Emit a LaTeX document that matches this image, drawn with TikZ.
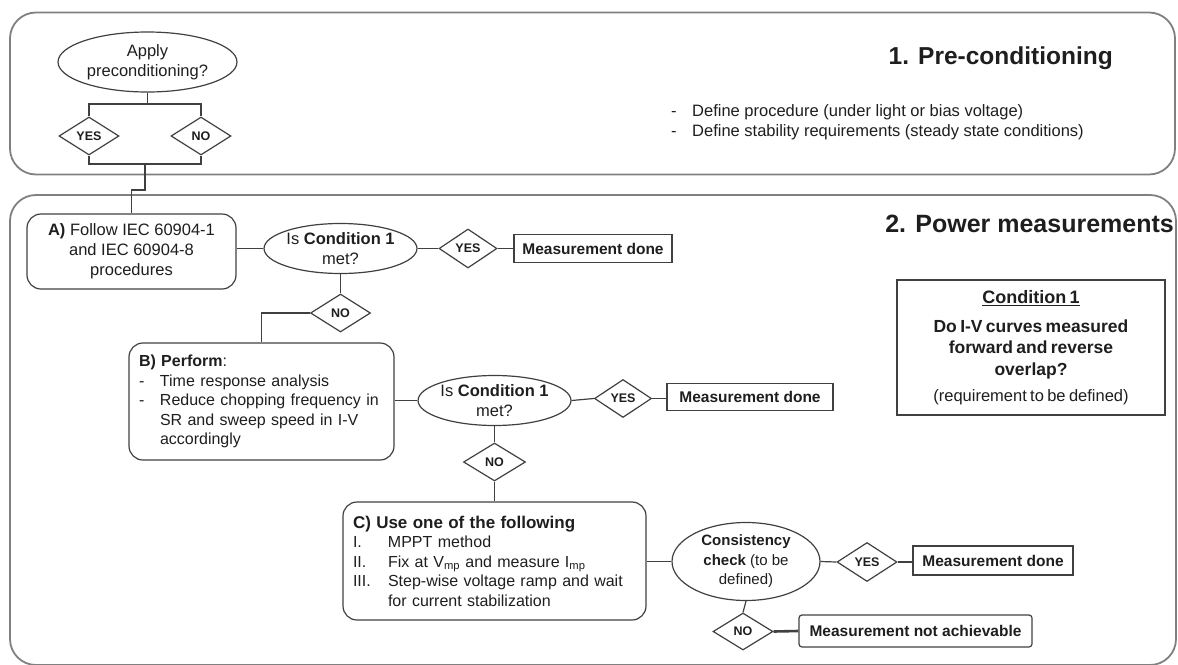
\documentclass[tikz,border=0pt]{standalone}
\usepackage{fontspec}
\setmainfont{Liberation Sans}
\usetikzlibrary{shapes.geometric}
\definecolor{ln}{HTML}{404040}
\definecolor{framec}{HTML}{808080}
\definecolor{txt}{HTML}{1E1E1E}
\begin{document}
\begin{tikzpicture}[x=1pt,y=-1pt,
  every node/.style={text=txt},
  conn/.style={draw=ln, line width=1.2pt},
  dbl/.style={draw=ln, line width=2.6pt},
  framebox/.style={draw=framec, line width=1.8pt, rounded corners=26pt, rectangle, inner sep=0pt},
  ellnode/.style={ellipse, draw=ln, line width=1.2pt, inner sep=0pt, align=center, font=\fontsize{16.5}{19.5}\selectfont},
  dia/.style={diamond, draw=ln, line width=1.2pt, inner sep=0pt, minimum width=60pt, minimum height=38pt, font=\fontsize{12.5}{14}\selectfont\bfseries},
  rbox/.style={rectangle, rounded corners=14pt, draw=ln, line width=1.2pt, inner ysep=0pt},
  sbox/.style={rectangle, draw=ln, line width=1.2pt, inner sep=0pt, font=\fontsize{15.5}{18}\selectfont\bfseries},
  plain/.style={inner sep=0pt, align=left},
]
\useasboundingbox (0,0) rectangle (1178,664);

% containers
\node[framebox, minimum width=1165pt, minimum height=162pt] (frame1) at (592.5,93.5) {};
\node[framebox, minimum width=1166pt, minimum height=470pt] (frame2) at (593,430) {};

% titles and notes
\node[plain, anchor=east, font=\fontsize{24.5}{28}\selectfont\bfseries] (t1) at (1113,58) {1. Pre-conditioning};
\node[plain, anchor=west, font=\fontsize{16.5}{20}\selectfont] (notes) at (671,122)
  {\makebox[21pt][l]{-}Define procedure (under light or bias voltage)\\
   \makebox[21pt][l]{-}Define stability requirements (steady state conditions)};
\node[plain, anchor=east, font=\fontsize{25}{28}\selectfont\bfseries] (t2) at (1174,224) {2. Power measurements};

% pre-conditioning
\node[ellnode, minimum width=179pt, minimum height=60pt] (pre) at (147.5,62) {Apply\\preconditioning?};
\node[dia] (yes0) at (89,136) {YES};
\node[dia] (no0) at (201,136) {NO};
\coordinate (j1) at (147.5,104);
\coordinate (j2) at (145,164);
\coordinate (j3) at (145,190);

% step A
\node[rbox, minimum width=209pt, minimum height=75pt, align=center, font=\fontsize{16.5}{20}\selectfont] (boxA) at (131.5,251.5)
  {\textbf{A)} Follow IEC 60904-1\\and IEC 60904-8\\procedures};
\node[ellnode, minimum width=149pt, minimum height=50pt] (e1) at (340.5,248.5) {Is \textbf{Condition 1}\\met?};
\node[dia, minimum width=58pt, minimum height=39pt] (yes1) at (468,248.5) {YES};
\node[sbox, minimum width=158pt, minimum height=28pt] (md1) at (593,248.5) {Measurement done};
\node[dia] (no1) at (340.5,313) {NO};

% step B
\node[rbox, minimum width=265pt, minimum height=117pt, text width=245pt, inner xsep=10pt, align=left, font=\fontsize{16}{19.5}\selectfont] (boxB) at (261.5,401.5)
  {\textbf{B) Perform}:\\
   \makebox[21pt][l]{-}Time response analysis\\
   \makebox[21pt][l]{-}Reduce chopping frequency in\\
   \hspace*{21pt}SR and sweep speed in I-V\\
   \hspace*{21pt}accordingly};
\node[ellnode, minimum width=148pt, minimum height=50pt] (e2) at (494.5,400.5) {Is \textbf{Condition 1}\\met?};
\node[dia, minimum width=57pt] (yes2) at (623,398.5) {YES};
\node[sbox, minimum width=166pt, minimum height=27pt] (md2) at (750,397) {Measurement done};
\node[dia, minimum width=62pt] (no2) at (494.5,462) {NO};

% step C
\node[rbox, minimum width=303pt, minimum height=118pt, text width=283pt, inner xsep=10pt, align=left, font=\fontsize{16}{19.5}\selectfont] (boxC) at (494.5,561)
  {{\fontsize{17}{19.5}\selectfont\bfseries C) Use one of the following}\\
   \makebox[35pt][l]{I.}MPPT method\\
   \makebox[35pt][l]{II.}Fix at V\textsubscript{mp} and measure I\textsubscript{mp}\\
   \makebox[35pt][l]{III.}Step-wise voltage ramp and wait\\
   \hspace*{35pt}for current stabilization};
\node[ellnode, minimum width=148pt, minimum height=78pt, font=\fontsize{15}{19.5}\selectfont] (e3) at (746,561.5)
  {\textbf{Consistency}\\\textbf{check} (to be\\defined)};
\node[dia, minimum height=39pt] (yes3) at (867,562) {YES};
\node[sbox, minimum width=160pt, minimum height=29pt] (md3) at (993,560.5) {Measurement done};
\node[dia, minimum height=37pt] (no3) at (743,631.5) {NO};
\node[sbox, rounded corners=3pt, minimum width=233pt, minimum height=32pt] (mna) at (915.5,631) {Measurement not achievable};

% condition box
\node[rectangle, draw=ln, line width=1.2pt, minimum width=268pt, minimum height=135pt, text width=260pt, align=center, inner xsep=4pt, inner ysep=0pt] (cond) at (1031,347.5)
  {\fontsize{18}{21}\selectfont\bfseries\underline{Condition 1}\par\vspace{7pt}
   \fontsize{17.5}{21.5}\selectfont Do I-V curves measured\\forward and reverse\\overlap?\par\vspace{6pt}
   \mdseries\fontsize{16.5}{20}\selectfont (requirement to be defined)\par};

% connectors
\draw[conn] (pre.south) -- (j1);
\draw[conn] (yes0.north) |- (j1) -| (no0.north);
\draw[conn] (yes0.south) |- (j2) -| (no0.south);
\draw[conn] (j2) -- (j3) -| (boxA.north);
\draw[conn] (boxA.east |- e1.west) -- (e1.west);
\draw[conn] (e1.east) -- (yes1.west);
\draw[conn] (yes1.east) -- (md1.west);
\draw[conn] (e1.south) -- (no1.north);
\draw[conn] (no1.west) -| (boxB.north);
\draw[conn] (boxB.east |- e2.west) -- (e2.west);
\draw[conn] (e2.east) -- (yes2.west);
\draw[conn] (yes2.east) -- (yes2.east -| md2.west);
\draw[conn] (e2.south) -- (no2.north);
\draw[conn] (no2.south) -- (boxC.north);
\draw[conn] (boxC.east |- e3.west) -- (e3.west);
\draw[conn] (e3.east) -- (yes3.west);
\draw[conn] (yes3.east) -- (yes3.east -| md3.west);
\draw[conn] (e3.south) -- (no3.north);
\draw[dbl] (no3.east) -- (mna.west);
\end{tikzpicture}
\end{document}
